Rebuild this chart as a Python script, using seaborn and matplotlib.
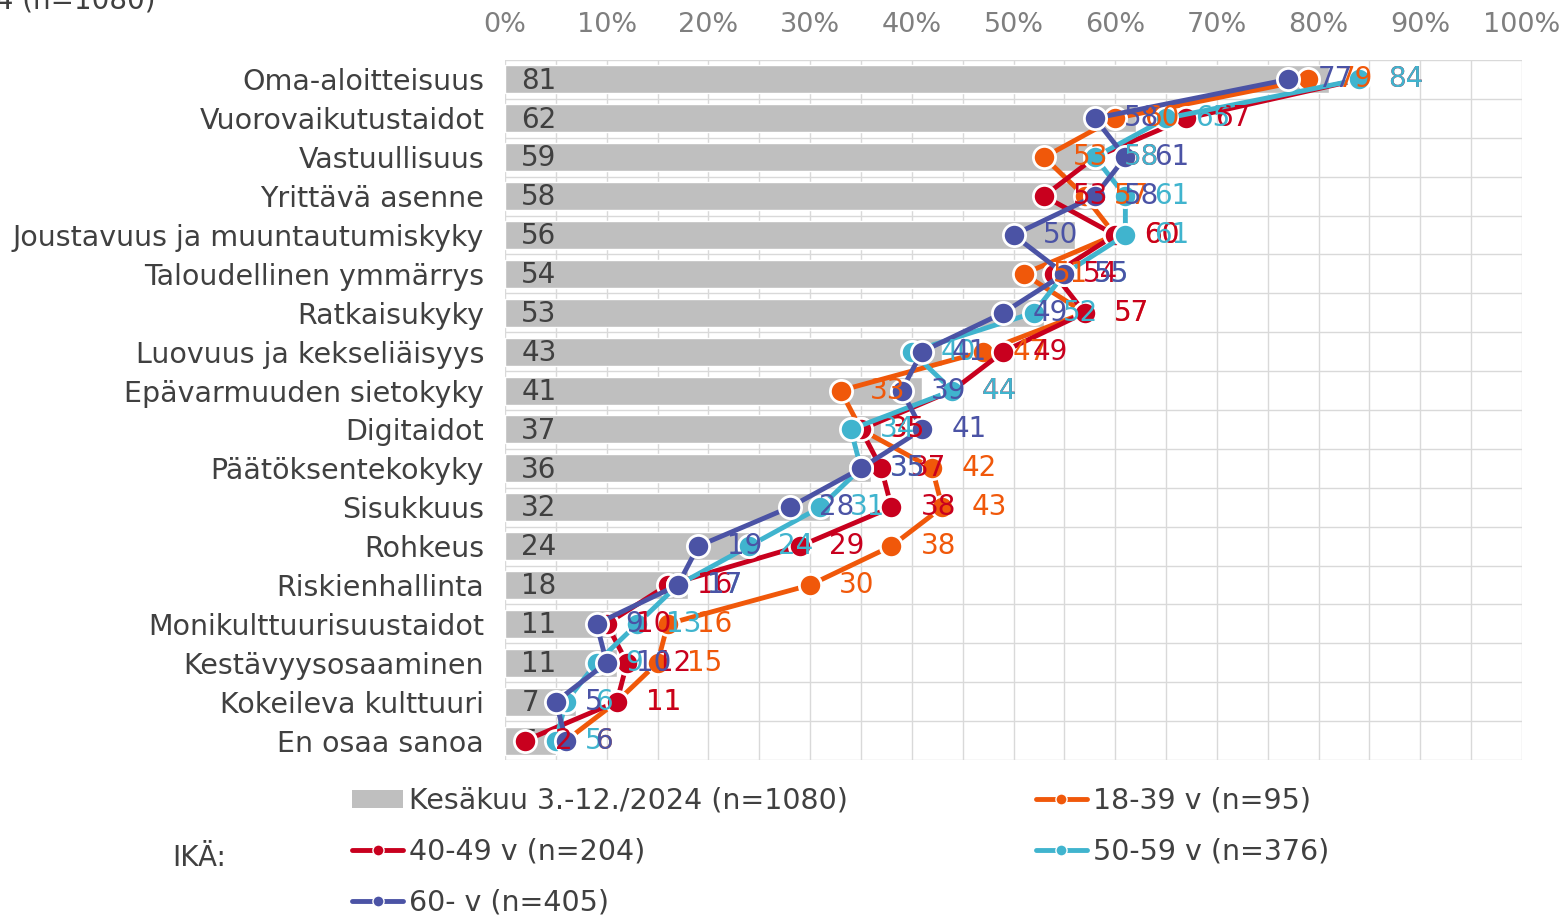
import matplotlib
matplotlib.use("Agg")
import matplotlib.pyplot as plt
from matplotlib.lines import Line2D
from matplotlib.patches import Patch
import seaborn as sns
import numpy as np

# Data
categories = ["Oma-aloitteisuus", "Vuorovaikutustaidot", "Vastuullisuus", "Yrittävä asenne",
              "Joustavuus ja muuntautumiskyky", "Taloudellinen ymmärrys", "Ratkaisukyky",
              "Luovuus ja kekseliäisyys", "Epävarmuuden sietokyky", "Digitaidot",
              "Päätöksentekokyky", "Sisukkuus", "Rohkeus", "Riskienhallinta",
              "Monikulttuurisuustaidot", "Kestävyysosaaminen", "Kokeileva kulttuuri", "En osaa sanoa"]
total = [81, 62, 59, 58, 56, 54, 53, 43, 41, 37, 36, 32, 24, 18, 11, 11, 7, 5]
age_18_39 = [79, 60, 53, 57, 60, 51, 57, 47, 33, 35, 42, 43, 38, 30, 16, 15, 11, 6]
age_40_49 = [84, 67, 58, 53, 60, 54, 57, 49, 44, 35, 37, 38, 29, 16, 10, 12, 11, 2]
age_50_59 = [84, 65, 58, 61, 61, 55, 52, 40, 44, 34, 35, 31, 24, 17, 13, 9, 6, 5]
age_60 = [77, 58, 61, 58, 50, 55, 49, 41, 39, 41, 35, 28, 19, 17, 9, 10, 5, 6]
xticks = [0, 10, 20, 30, 40, 50, 60, 70, 80, 90, 100]

total_label = "Kesäkuu 3.-12./2024 (n=1080)"
series = [
    ("18-39 v (n=95)", age_18_39, "#F0580A"),
    ("40-49 v (n=204)", age_40_49, "#C8001E"),
    ("50-59 v (n=376)", age_50_59, "#40B4CE"),
    ("60- v (n=405)", age_60, "#4B53A5"),
]

sns.set_style("white")
plt.rcParams["font.family"] = ["DejaVu Sans"]

fig = plt.figure(figsize=(15.62, 9.16), dpi=100)
ax = fig.add_axes([505 / 1562, 1 - 760 / 916, 1017 / 1562, 700 / 916])

pos = np.arange(len(categories))

# bars
sns.barplot(x=total, y=categories, orient="h", color="#BFBFBF", saturation=1,
            width=0.72, ax=ax, zorder=2)
for p, v in zip(pos, total):
    ax.text(1.6, p + 0.03, str(v), ha="left", va="center", fontsize=20, color="#404040", zorder=3)

# lines per age group
for name, vals, col in series:
    sns.lineplot(x=vals, y=pos, sort=False, orient="y", estimator=None, color=col,
                 linewidth=3.5, marker="o", markersize=16, markeredgecolor="white",
                 markeredgewidth=2, ax=ax, zorder=4)
for name, vals, col in series:
    for p, v in zip(pos, vals):
        ax.annotate(str(v), (v, p), xytext=(21, 0), textcoords="offset points",
                    ha="left", va="center", fontsize=20, color=col, zorder=6)

ax.set_xlim(0, 100)
ax.set_ylim(len(categories) - 0.5, -0.5)
ax.xaxis.tick_top()
ax.set_xticks(xticks)
ax.set_xticklabels([f"{t}%" for t in xticks])
ax.set_xticks(np.arange(0, 101, 5), minor=True)
ax.set_yticks(np.arange(-0.5, len(categories), 1), minor=True)
ax.tick_params(axis="x", which="both", length=0, pad=16, labelsize=19.5, labelcolor="#7F7F7F")
ax.tick_params(axis="y", which="both", length=0, pad=15, labelsize=20.5, labelcolor="#404040")
ax.grid(True, axis="x", which="both", color="#D9D9D9", lw=1)
ax.grid(True, axis="y", which="minor", color="#D9D9D9", lw=1)
ax.grid(False, axis="y", which="major")
ax.set_axisbelow(True)
for s in ax.spines.values():
    s.set_visible(False)
ax.set_xlabel("")
ax.set_ylabel("")
if ax.get_legend():
    ax.get_legend().remove()

# legend
handles = [Patch(facecolor="#BFBFBF", edgecolor="none")]
labels = [total_label]
order = [1, 3, 0, 2]
for i in order:
    name, vals, col = series[i]
    handles.append(Line2D([0], [0], color=col, lw=3.5, marker="o", markersize=8,
                          markeredgecolor="white", markeredgewidth=1))
    labels.append(name)
fig.legend(handles, labels, ncol=2, loc="upper left",
           bbox_to_anchor=(352 / 1562, 1 - 787 / 916), frameon=False,
           fontsize=20.5, labelcolor="#404040", handlelength=1.8, handleheight=0.6,
           handletextpad=0.2, columnspacing=6.6, labelspacing=0.8,
           borderpad=0, borderaxespad=0)
fig.text(172 / 1562, 1 - 858 / 916, "IKÄ:", ha="left", va="center", fontsize=20, color="#404040")
fig.text(155 / 1562, 1 - 8 / 916, total_label, ha="right", va="baseline", fontsize=20, color="#404040")

fig.savefig("out.png", dpi=100)
